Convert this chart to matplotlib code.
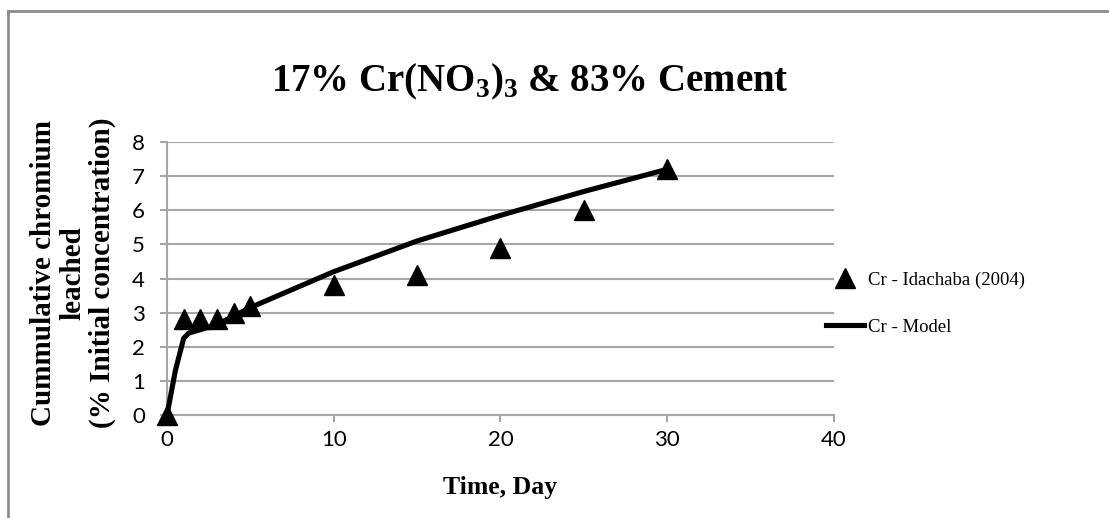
import matplotlib.pyplot as plt
from matplotlib.lines import Line2D

# measured leaching data
days_obs = [0, 1, 2, 3, 4, 5, 10, 15, 20, 25, 30]
cr_obs = [0, 2.8, 2.8, 2.8, 3.0, 3.2, 3.8, 4.1, 4.9, 6.0, 7.2]

# model prediction
days_model = [0, 0.5, 1, 1.3, 2, 3, 4, 5, 10, 15, 20, 25, 30]
cr_model = [0, 1.3, 2.25, 2.4, 2.5, 2.65, 2.9, 3.15, 4.2, 5.1, 5.85, 6.55, 7.2]

xticks = [0, 10, 20, 30, 40]
yticks = [0, 1, 2, 3, 4, 5, 6, 7, 8]

GRID = "#a6a6a6"
TICK_FONT = "Lato"
SERIF = "Liberation Serif"

plt.rcParams["mathtext.fontset"] = "custom"
plt.rcParams["mathtext.rm"] = SERIF
plt.rcParams["mathtext.bf"] = SERIF + ":bold"

fig = plt.figure(figsize=(11.09, 5.18), dpi=100)
ax = fig.add_axes([0.1506, 0.1988, 0.6014, 0.5271])

ax.plot(days_model, cr_model, color="black", lw=3.7, solid_joinstyle="round",
        solid_capstyle="round", zorder=3, clip_on=False)
ax.plot(days_obs, cr_obs, ls="none", marker="^", ms=15, color="black", zorder=4,
        clip_on=False)

ax.set_xlim(0, 40)
ax.set_ylim(0, 8)
ax.set_xticks(xticks)
ax.set_yticks(yticks)
ax.yaxis.grid(True, color=GRID, lw=1.5)
ax.set_axisbelow(True)

for side in ["top", "right"]:
    ax.spines[side].set_visible(False)
for side in ["left", "bottom"]:
    ax.spines[side].set_color(GRID)
    ax.spines[side].set_linewidth(1.5)

ax.tick_params(axis="both", direction="out", length=5, width=1.5, color=GRID,
               labelsize=16, pad=6)
ax.tick_params(axis="y", pad=11)
for lbl in ax.get_xticklabels() + ax.get_yticklabels():
    lbl.set_fontfamily(TICK_FONT)

ax.set_xlabel("Time, Day", fontfamily=SERIF, fontweight="bold", fontsize=18.5,
              va="top")
ax.xaxis.set_label_coords(0.5, -0.225)

fig.text(0.0658, 0.473, "Cummulative chromium\nleached\n(% Initial concentration)",
         rotation=90, ha="center", va="center", multialignment="center",
         fontfamily=SERIF, fontweight="bold", fontsize=21, linespacing=1.1)

fig.text(0.478, 0.842, r"17% Cr(NO$_\mathbf{3}$)$_\mathbf{3}$ & 83% Cement",
         ha="center", va="center", fontfamily=SERIF, fontweight="bold",
         fontsize=28)

handles = [
    Line2D([], [], ls="none", marker="^", ms=15, color="black"),
    Line2D([], [], color="black", lw=3.7),
]
leg = fig.legend(handles, ["Cr - Idachaba (2004)", "Cr - Model"],
                 loc="center left", bbox_to_anchor=(0.7295, 0.414),
                 frameon=False, labelspacing=1.6, handlelength=2.05,
                 handletextpad=0.2, prop={"family": SERIF, "size": 13.5})

# outer chart frame
fig.add_artist(Line2D([0.0072, 0.0072], [0.0, 0.978], color="#8c8c8c", lw=2))
fig.add_artist(Line2D([0.0072, 1.0], [0.978, 0.978], color="#8c8c8c", lw=2))

fig.savefig("out.png", dpi=100)
